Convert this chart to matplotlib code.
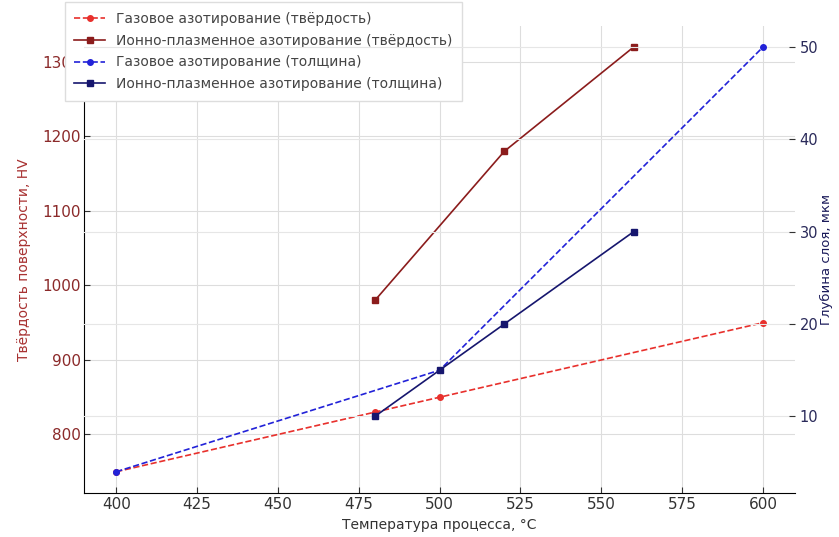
import numpy as np
import matplotlib
matplotlib.use("Agg")
import matplotlib.pyplot as plt


# data
temp_gas_hv = [400, 480, 500, 600]
hv_gas = [750, 830, 850, 950]
temp_ion_hv = [480, 520, 560]
hv_ion = [980, 1180, 1320]

temp_gas_depth = [400, 500, 600]
depth_gas = [4, 15, 50]
temp_ion_depth = [480, 500, 520, 560]
depth_ion = [10, 15, 20, 30]

labels = ["Газовое азотирование (твёрдость)",
          "Ионно-плазменное азотирование (твёрдость)",
          "Газовое азотирование (толщина)",
          "Ионно-плазменное азотирование (толщина)"]

plt.rcParams['font.family'] = ['DejaVu Sans']
plt.rcParams['font.size'] = 10

fig = plt.figure(figsize=(8.39, 5.37), dpi=100)
ax = fig.add_axes([0.100, 0.082, 0.848, 0.870])
ax2 = ax.twinx()

l1, = ax.plot(temp_gas_hv, hv_gas, '--o', color='#e8302c', lw=1.2, ms=4, label=labels[0])
l2, = ax.plot(temp_ion_hv, hv_ion, '-s', color='#8b1c1c', lw=1.2, ms=4.5, label=labels[1])
l3, = ax2.plot(temp_gas_depth, depth_gas, '--o', color='#2222d8', lw=1.2, ms=4, label=labels[2])
l4, = ax2.plot(temp_ion_depth, depth_ion, '-s', color='#16166e', lw=1.2, ms=4.5, label=labels[3])

ax.set_xlim(390, 610)
ax.set_xticks(np.arange(400, 601, 25))
ax.set_yticks([800, 900, 1000, 1100, 1200, 1300])
ax2.set_yticks([10, 20, 30, 40, 50])

ax.grid(True, color='#dddddd', lw=0.8)
ax2.grid(True, color='#e6e6e6', lw=0.8)

for a in (ax, ax2):
    a.spines['top'].set_visible(False)
    a.spines['right'].set_visible(False)
ax2.spines['left'].set_visible(False)
ax2.spines['bottom'].set_visible(False)

ax.tick_params(direction='in', length=4, colors='#333333', labelsize=11, pad=3)
ax.tick_params(axis='y', labelcolor='#8b2a2a', pad=2)
ax2.tick_params(direction='in', length=4, colors='#333333', labelcolor='#2a2a5a',
                labelsize=10.5, pad=3)

ax.set_xlabel("Температура процесса, °С", color='#333333', fontsize=10, labelpad=4)
ax.set_ylabel("Твёрдость поверхности, HV", color='#a83232', fontsize=10, labelpad=8)
ax2.set_ylabel("Глубина слоя, мкм", color='#1a1a5a', fontsize=9.5, labelpad=1)

leg = ax.legend(handles=[l1, l2, l3, l4], loc='upper left',
                bbox_to_anchor=(-0.027, 1.05), fontsize=10,
                framealpha=1, edgecolor='#dddddd', fancybox=False,
                borderaxespad=0, borderpad=0.7, handlelength=2.2, labelspacing=0.55)
for t in leg.get_texts():
    t.set_color('#444444')

fig.savefig("out.png", dpi=100)
